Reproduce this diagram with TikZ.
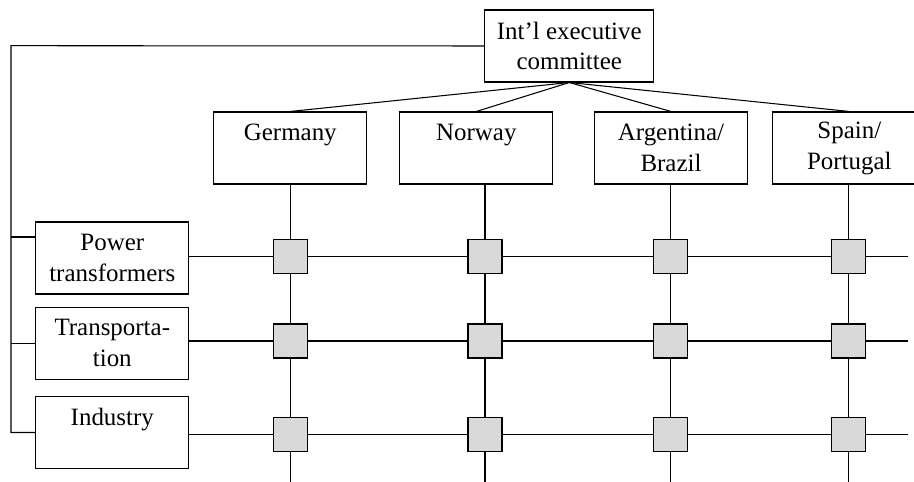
\documentclass[tikz,border=0pt]{standalone}
\usepackage{fontspec}
\setmainfont{Liberation Serif}
\definecolor{cellgray}{RGB}{217,217,217}

\begin{document}
\begin{tikzpicture}[x=0.02cm, y=-0.02cm, line width=0.6pt,
    font=\fontsize{14.2pt}{17.6pt}\selectfont,
    unit/.style={draw, align=center, inner sep=0pt, minimum width=3.06cm, minimum height=1.44cm},
    cell/.style={draw, fill=cellgray, inner sep=0pt, minimum size=0.68cm}]
       \useasboundingbox (0,0) rectangle (914,482);
       \clip (0,0) rectangle (914,482);
       % committee and countries
       \node[unit, minimum width=3.38cm] (com) at (569.3,46) {Int’l executive\\committee};
       \node[unit] (ger) at (290.3,148) {Germany\\~};
       \node[unit] (nor) at (476.3,148) {Norway\\~};
       \node[unit] (arg) at (671,148) {Argentina/\\Brazil};
       \node[unit] (spa) at (849.3,148) {Spain/\\Portugal};
       % business areas
       \node[unit] (pow) at (112.3,258) {Power\\transformers};
       \node[unit] (tra) at (112.3,343.3) {Transporta-\\tion};
       \node[unit] (ind) at (112.3,432.5) {Industry\\~};
       % matrix cells
       \foreach \c/\x in {ger/290.3, nor/485, arg/670.7, spa/848.7}
         \foreach \r/\y in {1/256.5, 2/341, 3/434.5}
           \node[cell] (\c\r) at (\x,\y) {};
       \coordinate (bot) at (0,482);
       \coordinate (rgt) at (908,0);
       \coordinate (bus) at (11,45.7);
       \coordinate (pw) at (11,237);
       \foreach \c in {ger, nor, arg, spa} {
         \draw (com.south) -- (\c.north);
         \draw (\c.south -| \c1) -- (\c1) -- (\c2) -- (\c3) -- (\c3 |- bot);
       }
       \foreach \b/\r in {pow/1, tra/2, ind/3}
         \draw (\b.east |- ger\r) -- (ger\r) -- (nor\r) -- (arg\r) -- (spa\r) -- (spa\r -| rgt);
       \draw (com.west) -- (bus) |- (ind.west);
       \draw (bus |- tra.west) -- (tra.west);
       \draw (pw) -- (pw -| pow.west);
      \end{tikzpicture}
\end{document}
